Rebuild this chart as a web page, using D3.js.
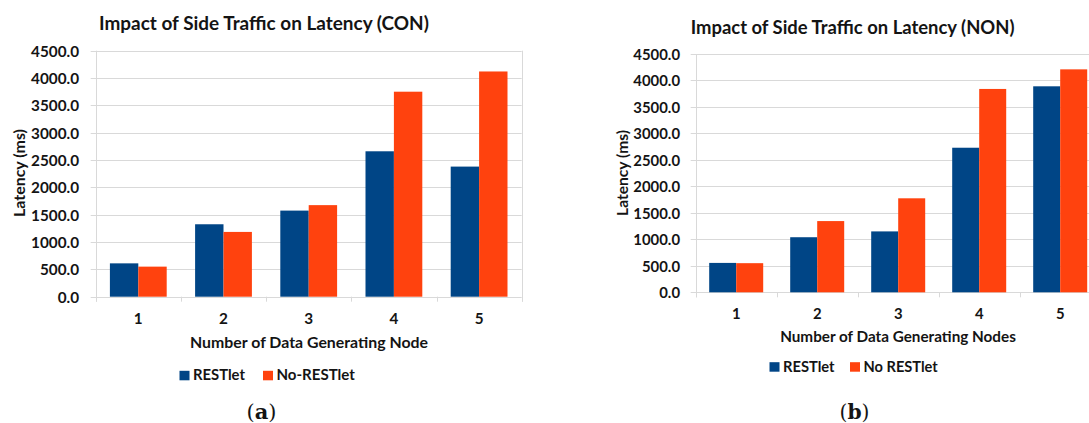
<!DOCTYPE html>
<html>
<head>
<meta charset="utf-8">
<script src="https://cdn.jsdelivr.net/npm/d3@7/dist/d3.min.js"></script>
<style>
  html, body { margin: 0; padding: 0; background: #ffffff; }
  svg { display: block; }
  text { font-family: Lato, "Open Sans", "DejaVu Sans", sans-serif; fill: #141414; }
</style>
</head>
<body>
<svg id="chart" width="1089" height="423"></svg>
<script>
// ---------------- data ----------------
const categories = ["1", "2", "3", "4", "5"];
const yTickValues = [0, 500, 1000, 1500, 2000, 2500, 3000, 3500, 4000, 4500];

const conSeriesNames = ["RESTlet", "No-RESTlet"];
const conRestlet = [610, 1325, 1575, 2660, 2380];
const conNoRestlet = [550, 1185, 1675, 3750, 4120];

const nonSeriesNames = ["RESTlet", "No RESTlet"];
const nonRestlet = [555, 1040, 1150, 2730, 3890];
const nonNoRestlet = [550, 1345, 1775, 3840, 4210];

const seriesColors = ["#004586", "#ff420e"];
// ---------------------------------------

const svg = d3.select("#chart");
const gridColor = "#d9d9d9";

function fitFont(sel, targetWidth) {
  const fs = parseFloat(sel.attr("font-size"));
  const w = sel.node().getComputedTextLength();
  const nfs = fs * targetWidth / w;
  sel.attr("font-size", nfs);
  return nfs;
}

function drawChart(cfg) {
  const g = svg.append("g");
  const [xl, xr] = cfg.xRange;
  const [yb, yt] = cfg.yRange;

  const x0 = d3.scaleBand().domain(categories).range([xl, xr]).padding(0);
  const x1 = d3.scaleBand().domain(cfg.seriesNames).range([0, x0.bandwidth()])
    .paddingInner(0).paddingOuter(0.5);
  const y = d3.scaleLinear().domain([0, 4500]).range([yb, yt]);

  const clipId = "clip" + cfg.id;
  svg.append("clipPath").attr("id", clipId).append("rect")
    .attr("x", 0).attr("y", 0).attr("width", 1089).attr("height", 423);

  // gridlines (with small outward tick)
  g.append("g").selectAll("line").data(yTickValues).join("line")
    .attr("x1", xl - 5).attr("x2", xr)
    .attr("y1", d => Math.round(y(d)) + 0.5).attr("y2", d => Math.round(y(d)) + 0.5)
    .attr("stroke", gridColor).attr("stroke-width", 1);

  // left and right plot border
  g.append("line").attr("x1", Math.round(xl) + 0.5).attr("x2", Math.round(xl) + 0.5)
    .attr("y1", yt).attr("y2", yb + 5).attr("stroke", gridColor);
  g.append("line").attr("x1", Math.round(xr) + 0.5).attr("x2", Math.round(xr) + 0.5)
    .attr("y1", yt).attr("y2", yb + 5).attr("stroke", gridColor);

  // category boundary ticks
  const bounds = categories.map(c => x0(c)).concat([xr]);
  g.append("g").selectAll("line").data(bounds).join("line")
    .attr("x1", d => Math.round(d) + 0.5).attr("x2", d => Math.round(d) + 0.5)
    .attr("y1", yb).attr("y2", yb + 5).attr("stroke", gridColor);

  // bars
  const data = categories.map((c, i) => ({
    cat: c,
    vals: cfg.seriesNames.map((s, k) => ({ s, k, v: cfg.values[k][i] }))
  }));
  g.append("g").selectAll("g").data(data).join("g")
    .attr("transform", d => `translate(${x0(d.cat)},0)`)
    .selectAll("rect").data(d => d.vals).join("rect")
    .attr("x", d => x1(d.s)).attr("width", x1.bandwidth())
    .attr("y", d => y(d.v)).attr("height", d => y(0) - y(d.v))
    .attr("fill", d => seriesColors[d.k]);

  // y axis labels
  const yAxis = d3.axisLeft(y).tickValues(yTickValues).tickSize(0)
    .tickPadding(xl - cfg.yLabelRight).tickFormat(d3.format(".1f"));
  const ya = g.append("g").attr("transform", `translate(${xl},0)`).call(yAxis);
  ya.select(".domain").remove();
  ya.selectAll("text").attr("font-family", "Lato, sans-serif").attr("font-weight", "bold")
    .attr("font-size", 14).attr("fill", "#141414").attr("dy", "0.36em");
  const topLbl = ya.selectAll("text").filter(d => d === 4500);
  const yfs = fitFont(topLbl, cfg.yLabelWidth);
  ya.selectAll("text").attr("font-size", yfs);

  // x axis labels
  const xAxis = d3.axisBottom(x0).tickSize(0).tickPadding(0);
  const xa = g.append("g").attr("transform", `translate(0,${yb})`).call(xAxis);
  xa.select(".domain").remove();
  xa.selectAll("text").attr("font-family", "Lato, sans-serif").attr("font-weight", "bold")
    .attr("font-size", yfs).attr("fill", "#141414")
    .attr("dy", 0).attr("y", cfg.xLabelBaseline - yb);

  // x axis title
  const xt = g.append("text").attr("x", (xl + cfg.xTitleCenterRef) / 2)
    .attr("x", cfg.xTitleCenter).attr("y", cfg.xTitleBaseline)
    .attr("text-anchor", "middle").attr("font-weight", "bold").attr("font-size", 15)
    .text(cfg.xTitle);
  fitFont(xt, cfg.xTitleWidth);

  // y axis title
  const yt2 = g.append("text")
    .attr("transform", `translate(${cfg.yTitleX},${cfg.yTitleY}) rotate(-90)`)
    .attr("text-anchor", "middle").attr("dy", "0.36em")
    .attr("font-weight", "bold").attr("font-size", 14).text("Latency (ms)");
  fitFont(yt2, cfg.yTitleLen);

  // title
  const tt = g.append("text").attr("x", cfg.titleX).attr("y", cfg.titleBaseline)
    .attr("font-weight", "bold").attr("font-size", 17).text(cfg.title);
  fitFont(tt, cfg.titleWidth);

  // legend
  const lg = g.append("g");
  cfg.seriesNames.forEach((s, k) => {
    const lx = cfg.legendX[k];
    lg.append("rect").attr("x", lx).attr("y", cfg.legendBaseline - 9.5)
      .attr("width", 10).attr("height", 9.5).attr("fill", seriesColors[k]);
    const t = lg.append("text").attr("x", lx + 13.5).attr("y", cfg.legendBaseline)
      .attr("font-weight", "bold").attr("font-size", 15).text(s);
    fitFont(t, cfg.legendTextWidth[k]);
  });

  // sub-caption
  const cap = svg.append("text").attr("x", cfg.capX).attr("y", cfg.capBaseline)
    .attr("text-anchor", "middle")
    .style("font-family", "'DejaVu Serif', 'Liberation Serif', serif")
    .attr("font-size", 19);
  cap.append("tspan").text("(");
  cap.append("tspan").attr("font-weight", "bold").text(cfg.capLetter);
  cap.append("tspan").text(")");
  fitFont(cap, 30);
}

drawChart({
  id: "a",
  seriesNames: conSeriesNames,
  values: [conRestlet, conNoRestlet],
  xRange: [95.7, 521.7],
  yRange: [296.7, 50.7],
  yLabelRight: 79,
  yLabelWidth: 48,
  xLabelBaseline: 324.3,
  xTitle: "Number of Data Generating Node",
  xTitleCenter: 309,
  xTitleCenterRef: 521.7,
  xTitleBaseline: 347.5,
  xTitleWidth: 238,
  yTitleX: 19,
  yTitleY: 173,
  yTitleLen: 88,
  title: "Impact of Side Traffic on Latency (CON)",
  titleX: 99,
  titleBaseline: 29.5,
  titleWidth: 330,
  legendX: [179.5, 263],
  legendTextWidth: [52, 78.5],
  legendBaseline: 380.3,
  capX: 261.5,
  capBaseline: 418.5,
  capLetter: "a"
});

drawChart({
  id: "b",
  seriesNames: nonSeriesNames,
  values: [nonRestlet, nonNoRestlet],
  xRange: [695.7, 1100.7],
  yRange: [292.3, 54],
  yLabelRight: 680,
  yLabelWidth: 46.7,
  xLabelBaseline: 319.5,
  xTitle: "Number of Data Generating Nodes",
  xTitleCenter: 898,
  xTitleCenterRef: 1100.7,
  xTitleBaseline: 342,
  xTitleWidth: 236,
  yTitleX: 622.7,
  yTitleY: 173,
  yTitleLen: 86,
  title: "Impact of Side Traffic on Latency (NON)",
  titleX: 690.7,
  titleBaseline: 33.5,
  titleWidth: 324,
  legendX: [769.5, 850],
  legendTextWidth: [51.6, 74.4],
  legendBaseline: 371.7,
  capX: 854.5,
  capBaseline: 419,
  capLetter: "b"
});
</script>
</body>
</html>
